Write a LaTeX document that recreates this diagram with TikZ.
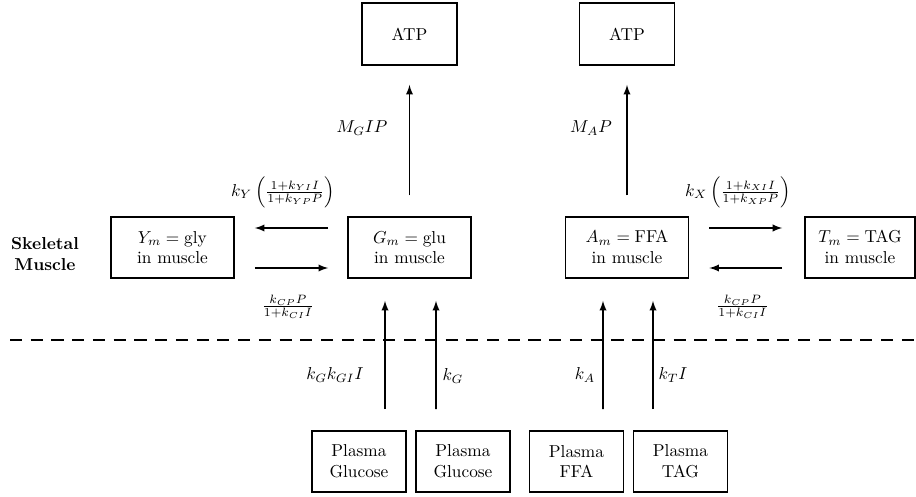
\documentclass[tikz,border=0pt]{standalone}
\usetikzlibrary{calc,arrows}
\begin{document}
\begin{tikzpicture}[x=0.5786pt,y=-0.5786pt,
  box/.style={draw,line width=1pt,align=center,inner sep=1pt,minimum height=35.3pt},
  atpbox/.style={box,minimum width=55pt,minimum height=35.9pt},
  musbox/.style={box,minimum width=71.2pt},
  plbox/.style={box,minimum width=54.4pt},
  arr/.style={-latex,line width=0.9pt},
  lbl/.style={inner sep=0pt}]
\useasboundingbox (0,0) rectangle (916,497);
% top
\node[atpbox] (atp1) at (409.5,34) {ATP};
\node[atpbox] (atp2) at (627,34) {ATP};
% muscle
\node[musbox] (Y) at (172.5,247.5) {$Y_m=\mathrm{gly}$\\in muscle};
\node[musbox] (G) at (409.5,247.5) {$G_m=\mathrm{glu}$\\in muscle};
\node[musbox] (A) at (627,247.5) {$A_m=\mathrm{FFA}$\\in muscle};
\node[box,minimum width=63.6pt] (T) at (860,247.5) {$T_m=\mathrm{TAG}$\\in muscle};
% plasma
\node[plbox] (B1) at (359,461.5) {Plasma\\Glucose};
\node[plbox] (B2) at (463,461.5) {Plasma\\Glucose};
\node[plbox] (B3) at (576.5,461.5) {Plasma\\FFA};
\node[plbox] (B4) at (680.5,461.5) {Plasma\\TAG};
% label
\node[font=\bfseries,align=center,lbl] (sk) at (45,254) {Skeletal\\Muscle};
% dashed
\coordinate (dl) at (10,340);
\coordinate (dr) at (916,340);
\draw[line width=1pt,dash pattern=on 7pt off 5pt] (dl) -- (dr);
% up to ATP
\draw[arr,shorten <=12pt,shorten >=11pt] (G.north) -- (atp1.south);
\draw[arr,shorten <=12pt,shorten >=11pt] (A.north) -- (atp2.south);
\node[lbl] (mg) at (362,128) {$M_GIP$};
\node[lbl] (ma) at (591,128) {$M_AP$};
% Y <-> G
\draw[arr] ($(G.west)+(-19,-19.5)$) -- ($(Y.east)+(20,-19.5)$);
\draw[arr] ($(Y.east)+(20,20.5)$) -- ($(G.west)+(-19,20.5)$);
\node[lbl] (ly) at (283,192) {$k_Y\left(\frac{1+k_{YI}I}{1+k_{YP}P}\right)$};
\node[lbl] (lc1) at (288,307) {$\frac{k_{CP}P}{1+k_{CI}I}$};
% A <-> T
\draw[arr] ($(A.east)+(20,-19.5)$) -- ($(T.west)+(-22,-19.5)$);
\draw[arr] ($(T.west)+(-22,20.5)$) -- ($(A.east)+(20,20.5)$);
\node[lbl] (lx) at (738,192) {$k_X\left(\frac{1+k_{XI}I}{1+k_{XP}P}\right)$};
\node[lbl] (lc2) at (742.5,307) {$\frac{k_{CP}P}{1+k_{CI}I}$};
% plasma arrows
\draw[arr] ($(B1.north)+(26,-21)$) -- ($(G.south)+(-24.5,22)$);
\draw[arr] ($(B2.north)+(-27,-21)$) -- ($(G.south)+(26.5,22)$);
\draw[arr] ($(B3.north)+(26.5,-21)$) -- ($(A.south)+(-24,22)$);
\draw[arr] ($(B4.north)+(-27.5,-21)$) -- ($(A.south)+(26,22)$);
\node[lbl] (l1) at (335,375) {$k_Gk_{GI}I$};
\node[lbl] (l2) at (453,376) {$k_G$};
\node[lbl] (l3) at (585,375) {$k_A$};
\node[lbl] (l4) at (673,375) {$k_TI$};
\end{tikzpicture}
\end{document}
